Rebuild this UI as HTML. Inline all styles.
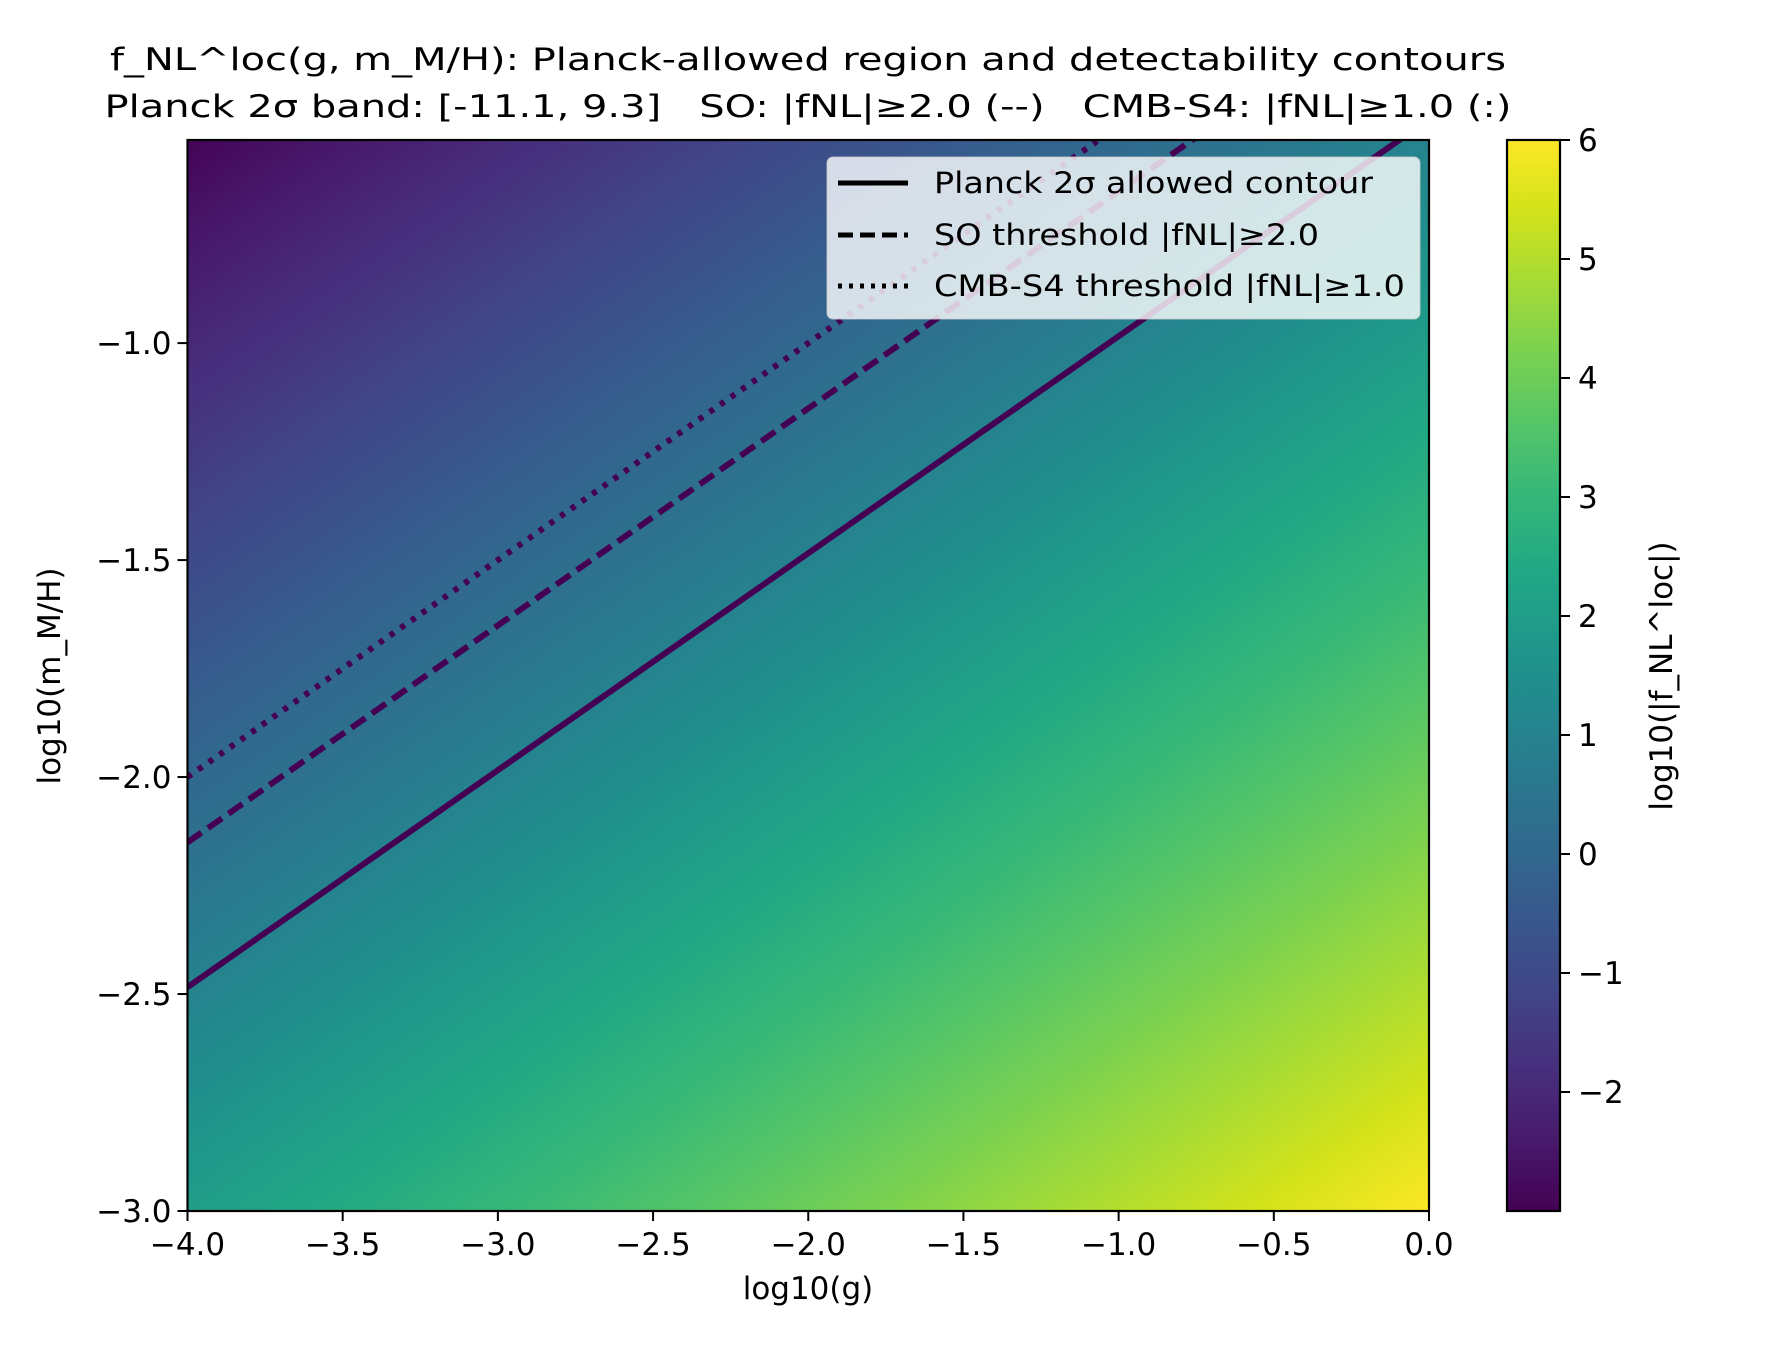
<!DOCTYPE html>
<html><head><meta charset="utf-8"><style>
html,body{margin:0;padding:0;background:#fff}
svg text{font-family:"DejaVu Sans","Liberation Sans",sans-serif;fill:#000;white-space:pre}
</style></head><body>
<svg id="chart" width="1776" height="1344" viewBox="0 0 1776 1344" xmlns="http://www.w3.org/2000/svg" xml:space="preserve">
<g>
<text x="808" y="70" font-size="31" text-anchor="middle" textLength="1396" lengthAdjust="spacingAndGlyphs">f_NL^loc(g, m_M/H): Planck-allowed region and detectability contours</text>
<text x="808" y="117" font-size="31" text-anchor="middle" textLength="1407" lengthAdjust="spacingAndGlyphs">Planck 2σ band: [-11.1, 9.3]   SO: |fNL|≥2.0 (--)   CMB-S4: |fNL|≥1.0 (:)</text>
</g>
<foreignObject x="187.5" y="140" width="1241.5" height="1071"><canvas id="heat" width="1242" height="1071" xmlns="http://www.w3.org/1999/xhtml" style="display:block;width:1241.5px;height:1071px"></canvas></foreignObject>
<g id="contours"></g>
<g id="legend">
<rect x="827" y="157" width="593" height="162" rx="6" fill="#ffffff" fill-opacity="0.8" stroke="#cccccc" stroke-opacity="0.8"/>
<line x1="838" y1="183" x2="908" y2="183" stroke="#000" stroke-width="5"/>
<text x="934" y="193" font-size="29" textLength="439" lengthAdjust="spacingAndGlyphs">Planck 2σ allowed contour</text>
<line x1="838" y1="235" x2="908" y2="235" stroke="#000" stroke-width="5" stroke-dasharray="15,7"/>
<text x="934" y="245" font-size="29" textLength="385" lengthAdjust="spacingAndGlyphs">SO threshold |fNL|≥2.0</text>
<line x1="838" y1="286" x2="908" y2="286" stroke="#000" stroke-width="5" stroke-dasharray="4,7"/>
<text x="934" y="296" font-size="29" textLength="471" lengthAdjust="spacingAndGlyphs">CMB-S4 threshold |fNL|≥1.0</text>
</g>
<rect x="187.5" y="140" width="1241.5" height="1071" fill="none" stroke="#000" stroke-width="2.2"/>
<g id="xticks"></g>
<g id="yticks"></g>
<text x="808" y="1299" font-size="31" text-anchor="middle">log10(g)</text>
<text transform="translate(60,676) rotate(-90)" font-size="31" text-anchor="middle">log10(m_M/H)</text>
<defs><linearGradient id="cbgrad" x1="0" y1="1" x2="0" y2="0"></linearGradient></defs>
<rect x="1507" y="140" width="53" height="1071" fill="url(#cbgrad)" stroke="#000" stroke-width="2.2"/>
<g id="cbticks"></g>
<text transform="translate(1672,676) rotate(-90)" font-size="31" text-anchor="middle">log10(|f_NL^loc|)</text>
</svg>
<script>
// data
const xTicks = [-4.0,-3.5,-3.0,-2.5,-2.0,-1.5,-1.0,-0.5,0.0];
const yTicks = [-3.0,-2.5,-2.0,-1.5,-1.0];
const cbTicks = [-2,-1,0,1,2,3,4,5,6];
const xDomain = [-4.0, 0.0];
const yDomain = [-3.0, -0.532];
const cDomain = [-3.0, 6.0];
// field model: log10|fNL| = cX*log10(g) + cY*log10(m)
const fieldCoeffs = [1.0, -2.0];
const contourLevels = [Math.log10(9.3), Math.log10(2.0), Math.log10(1.0)];
const contourNames = ['contour-planck','contour-so','contour-s4'];
const contourDash = ['none','17,8','5,8'];
const viridis = ['#440154','#481a6c','#472f7d','#414487','#39568c','#31688e','#2a788e','#23888e','#1f988b','#22a884','#35b779','#54c568','#7ad151','#a5db36','#d2e21b','#fde725'];

const PL=187.5, PR=1429, PT=140, PB=1211;
const sx = v => PL + (v-xDomain[0])/(xDomain[1]-xDomain[0])*(PR-PL);
const sy = v => PB - (v-yDomain[0])/(yDomain[1]-yDomain[0])*(PB-PT);
const cy = v => PB - (v-cDomain[0])/(cDomain[1]-cDomain[0])*(PB-PT);
const NS='http://www.w3.org/2000/svg';
function hex(h){return [parseInt(h.slice(1,3),16),parseInt(h.slice(3,5),16),parseInt(h.slice(5,7),16)];}
const vrgb = viridis.map(hex);
function cmap(t){t=Math.max(0,Math.min(1,t));const p=t*(vrgb.length-1);const i=Math.min(vrgb.length-2,Math.floor(p));const f=p-i;return [0,1,2].map(k=>vrgb[i][k]+(vrgb[i+1][k]-vrgb[i][k])*f);}

// heatmap
const cv=document.getElementById('heat');const ctx=cv.getContext('2d');
const W=cv.width,H=cv.height;const img=ctx.createImageData(W,H);
for(let j=0;j<H;j++){const yv=yDomain[1]-(j+0.5)/H*(yDomain[1]-yDomain[0]);
 for(let i=0;i<W;i++){const xv=xDomain[0]+(i+0.5)/W*(xDomain[1]-xDomain[0]);
  const f=fieldCoeffs[0]*xv+fieldCoeffs[1]*yv;const c=cmap((f-cDomain[0])/(cDomain[1]-cDomain[0]));
  const o=(j*W+i)*4;img.data[o]=c[0];img.data[o+1]=c[1];img.data[o+2]=c[2];img.data[o+3]=255;}}
ctx.putImageData(img,0,0);

// contours
const cg=document.getElementById('contours');
const clip=document.createElementNS(NS,'clipPath');clip.setAttribute('id','pclip');
const cr=document.createElementNS(NS,'rect');cr.setAttribute('x',PL);cr.setAttribute('y',PT);cr.setAttribute('width',PR-PL);cr.setAttribute('height',PB-PT);
clip.appendChild(cr);cg.appendChild(clip);cg.setAttribute('clip-path','url(#pclip)');
contourLevels.forEach((L,k)=>{
 const yAt=x=>(L-fieldCoeffs[0]*x)/fieldCoeffs[1];
 const ln=document.createElementNS(NS,'line');
 ln.setAttribute('x1',sx(xDomain[0]));ln.setAttribute('y1',sy(yAt(xDomain[0])));
 ln.setAttribute('x2',sx(xDomain[1]));ln.setAttribute('y2',sy(yAt(xDomain[1])));
 ln.setAttribute('stroke','#440154');ln.setAttribute('stroke-width','6');
 if(contourDash[k]!=='none')ln.setAttribute('stroke-dasharray',contourDash[k]);
 
 
 cg.appendChild(ln);
});

function fmt(v,d){return (v<0?'\u2212':'')+Math.abs(v).toFixed(d);}
const xg=document.getElementById('xticks');
xTicks.forEach(v=>{const x=sx(v);
 const t=document.createElementNS(NS,'line');t.setAttribute('x1',x);t.setAttribute('x2',x);t.setAttribute('y1',PB);t.setAttribute('y2',PB+10);t.setAttribute('stroke','#000');t.setAttribute('stroke-width','2');
 
 
 xg.appendChild(t);
 const tx=document.createElementNS(NS,'text');tx.setAttribute('x',x);tx.setAttribute('y',PB+44);tx.setAttribute('font-size','31');tx.setAttribute('text-anchor','middle');tx.textContent=fmt(v,1);
 
 
 xg.appendChild(tx);});
const yg=document.getElementById('yticks');
yTicks.forEach(v=>{const y=sy(v);
 const t=document.createElementNS(NS,'line');t.setAttribute('x1',PL-10);t.setAttribute('x2',PL);t.setAttribute('y1',y);t.setAttribute('y2',y);t.setAttribute('stroke','#000');t.setAttribute('stroke-width','2');
 
 
 yg.appendChild(t);
 const tx=document.createElementNS(NS,'text');tx.setAttribute('x',PL-16);tx.setAttribute('y',y+11);tx.setAttribute('font-size','31');tx.setAttribute('text-anchor','end');tx.textContent=fmt(v,1);
 
 
 yg.appendChild(tx);});
const grad=document.getElementById('cbgrad');
viridis.forEach((c,i)=>{const s=document.createElementNS(NS,'stop');s.setAttribute('offset',i/(viridis.length-1));s.setAttribute('stop-color',c);grad.appendChild(s);});
const cbg=document.getElementById('cbticks');
cbTicks.forEach(v=>{const y=cy(v);
 const t=document.createElementNS(NS,'line');t.setAttribute('x1',1560);t.setAttribute('x2',1570);t.setAttribute('y1',y);t.setAttribute('y2',y);t.setAttribute('stroke','#000');t.setAttribute('stroke-width','2');
 
 
 cbg.appendChild(t);
 const tx=document.createElementNS(NS,'text');tx.setAttribute('x',1578);tx.setAttribute('y',y+11);tx.setAttribute('font-size','31');tx.textContent=fmt(v,0);
 
 
 cbg.appendChild(tx);});
</script>
</body></html>
